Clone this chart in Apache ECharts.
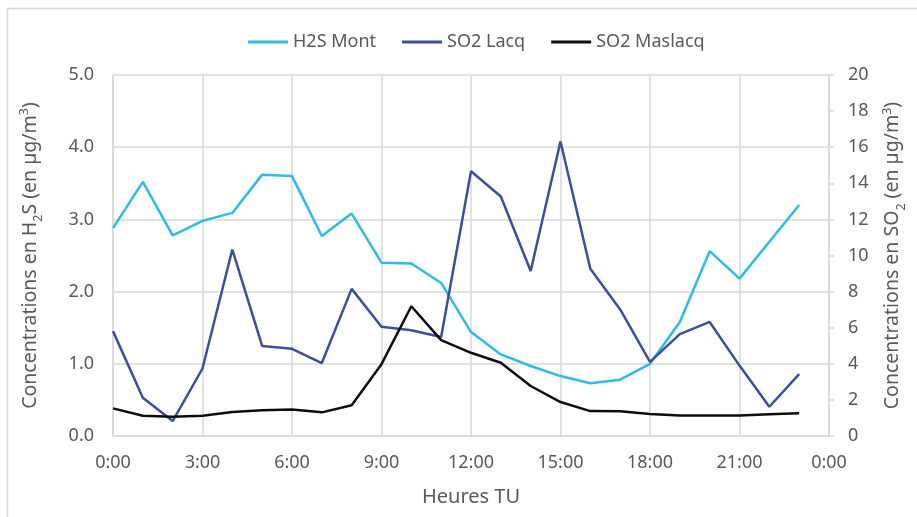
<!DOCTYPE html>
<html>
<head>
<meta charset="utf-8">
<script src="https://cdn.jsdelivr.net/npm/echarts@6/dist/echarts.min.js"></script>
<style>
  html, body { margin: 0; padding: 0; background: #ffffff; }
  #chart { width: 917px; height: 517px; }
</style>
</head>
<body>
<div id="chart"></div>
<script>
// Hourly readings (UTC), one value per hour from 0:00 to 23:00
const hours = [0, 1, 2, 3, 4, 5, 6, 7, 8, 9, 10, 11, 12, 13, 14, 15, 16, 17, 18, 19, 20, 21, 22, 23];

// H2S at Mont, µg/m³ (left axis)
const h2sMont = [2.88, 3.52, 2.78, 2.98, 3.09, 3.62, 3.60, 2.77, 3.08, 2.40, 2.39, 2.12,
                 1.44, 1.13, 0.97, 0.83, 0.73, 0.78, 1.00, 1.58, 2.56, 2.18, 2.69, 3.20];

// SO2 at Lacq, µg/m³ (right axis)
const so2Lacq = [5.81, 2.12, 0.83, 3.74, 10.33, 4.99, 4.83, 4.04, 8.15, 6.05, 5.86, 5.49,
                 14.67, 13.27, 9.14, 16.32, 9.27, 7.01, 4.11, 5.64, 6.32, 3.90, 1.62, 3.43];

// SO2 at Maslacq, µg/m³ (right axis)
const so2Maslacq = [1.53, 1.12, 1.07, 1.12, 1.33, 1.42, 1.47, 1.31, 1.70, 3.98, 7.19, 5.31,
                    4.61, 4.06, 2.77, 1.88, 1.38, 1.37, 1.22, 1.14, 1.14, 1.14, 1.20, 1.26];

const seriesNames = ['H2S Mont', 'SO2 Lacq', 'SO2 Maslacq'];
const xTickHours = [0, 3, 6, 9, 12, 15, 18, 21, 24];

const FONT = '"Noto Sans", "Open Sans", sans-serif';
const TEXT = '#595959';
const GRID = '#d9d9d9';

const pairs = (vals) => vals.map((v, i) => [hours[i], v]);

const nameRich = {
  a: { fontSize: 19.5, color: TEXT, fontFamily: FONT, lineHeight: 26 },
  sub: { fontSize: 12.5, color: TEXT, fontFamily: FONT, lineHeight: 26, verticalAlign: 'bottom', padding: [0, 0, -2, 0] },
  sup: { fontSize: 12.5, color: TEXT, fontFamily: FONT, lineHeight: 26, verticalAlign: 'top', padding: [1, 0, 0, 0] }
};

const chart = echarts.init(document.getElementById('chart'), null, { renderer: 'canvas' });

chart.setOption({
  backgroundColor: '#ffffff',
  animation: false,
  textStyle: { fontFamily: FONT },
  graphic: [{
    type: 'rect',
    shape: { x: 7.5, y: 8.5, width: 1000, height: 600 },
    style: { fill: 'none', stroke: GRID, lineWidth: 1.5 },
    silent: true, z: -10
  }],
  legend: {
    data: seriesNames,
    top: 28,
    left: 243,
    itemWidth: 40,
    itemHeight: 3,
    itemGap: 26,
    icon: 'rect',
    textStyle: { fontSize: 18, color: TEXT, fontFamily: FONT }
  },
  grid: { left: 113, right: 88, top: 75, bottom: 81, containLabel: false },
  xAxis: {
    type: 'value',
    min: 0, max: 24, interval: 3,
    name: 'Heures TU',
    nameLocation: 'middle',
    nameGap: 51,
    nameTextStyle: { fontSize: 20, color: TEXT, fontFamily: FONT },
    axisLine: { show: true, lineStyle: { color: GRID, width: 1.5 } },
    axisTick: { show: false },
    splitLine: { show: true, lineStyle: { color: GRID, width: 1.5 } },
    axisLabel: {
      margin: 18,
      fontSize: 18, color: TEXT, fontFamily: FONT,
      customValues: xTickHours,
      formatter: (v) => ((v % 24) + ':00')
    }
  },
  yAxis: [{
    type: 'value',
    position: 'left',
    min: 0, max: 5, interval: 1,
    name: '{a|Concentrations en H}{sub|2}{a|S (en µg/m}{sup|3}{a|)}',
    nameLocation: 'middle',
    nameRotate: 90,
    nameGap: 70,
    nameTextStyle: { rich: nameRich },
    axisLine: { show: true, lineStyle: { color: GRID, width: 1.5 } },
    axisTick: { show: false },
    splitLine: { show: true, lineStyle: { color: GRID, width: 1.5 } },
    axisLabel: {
      margin: 19,
      fontSize: 18, color: TEXT, fontFamily: FONT,
      formatter: (v) => v.toFixed(1)
    }
  }, {
    type: 'value',
    position: 'right',
    min: 0, max: 20, interval: 2,
    name: '{a|Concentrations en SO}{sub|2}{a| (en µg/m}{sup|3}{a|)}',
    nameLocation: 'middle',
    nameRotate: 90,
    nameGap: 49,
    nameTextStyle: { rich: nameRich },
    axisLine: { show: true, lineStyle: { color: GRID, width: 1.5 } },
    axisTick: { show: true, length: 5, inside: false, lineStyle: { color: GRID, width: 1.5 } },
    splitLine: { show: false },
    axisLabel: {
      margin: 19,
      fontSize: 18, color: TEXT, fontFamily: FONT
    }
  }],
  series: [{
    name: seriesNames[0],
    type: 'line',
    yAxisIndex: 0,
    data: pairs(h2sMont),
    showSymbol: false,
    lineStyle: { color: '#2cbbea', width: 2.5 },
    itemStyle: { color: '#2cbbea' },
    z: 2
  }, {
    name: seriesNames[1],
    type: 'line',
    yAxisIndex: 1,
    data: pairs(so2Lacq),
    showSymbol: false,
    lineStyle: { color: '#3a4fa0', width: 2.5 },
    itemStyle: { color: '#3a4fa0' },
    z: 3
  }, {
    name: seriesNames[2],
    type: 'line',
    yAxisIndex: 1,
    data: pairs(so2Maslacq),
    showSymbol: false,
    lineStyle: { color: '#0d0d0d', width: 2.5 },
    itemStyle: { color: '#0d0d0d' },
    z: 4
  }]
});
</script>
</body>
</html>
